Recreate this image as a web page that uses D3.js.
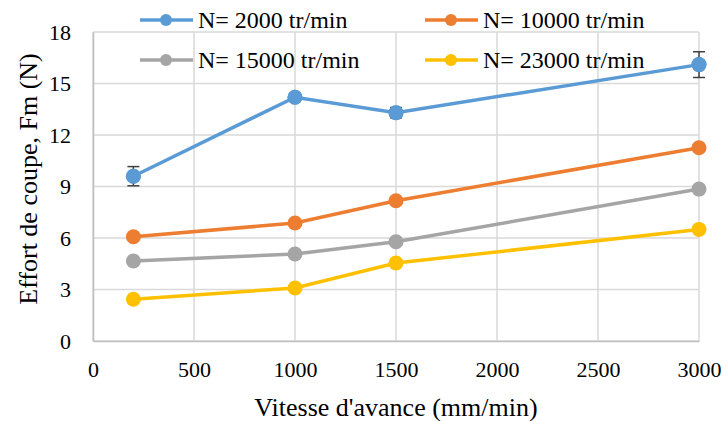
<!DOCTYPE html>
<html>
<head>
<meta charset="utf-8">
<script src="https://cdn.jsdelivr.net/npm/d3@7"></script>
<style>
  body { margin: 0; background: #fff; }
  svg text { font-family: "Liberation Serif", "DejaVu Serif", "Times New Roman", serif; fill: #000; }
</style>
</head>
<body>
<div id="chart"></div>
<script>
// feed rates (mm/min)
var feeds = [200, 1000, 1500, 3000];
var seriesNames = ["N= 2000 tr/min", "N= 10000 tr/min", "N= 15000 tr/min", "N= 23000 tr/min"];
var colors = ["#5B9BD5", "#ED7D31", "#A5A5A5", "#FFC000"];
// cutting force Fm (N)
var fm2000 = [9.6, 14.2, 13.3, 16.1];
var fm10000 = [6.07, 6.87, 8.17, 11.26];
var fm15000 = [4.66, 5.07, 5.78, 8.85];
var fm23000 = [2.43, 3.09, 4.54, 6.5];
// error bars (only the 2000 tr/min series shows them)
var err2000 = [0.56, 0.2, 0.3, 0.75];
var xTicks = [0, 500, 1000, 1500, 2000, 2500, 3000];
var yTicks = [0, 3, 6, 9, 12, 15, 18];

var width = 724, height = 421;
var margin = {top: 32, right: 25, bottom: 80, left: 93};
var serif = '"Liberation Serif", "DejaVu Serif", "Times New Roman", serif';

var svg = d3.select('#chart').append('svg')
  .attr('width', width).attr('height', height);

var x = d3.scaleLinear().domain([0, 3000]).range([margin.left, width - margin.right]);
var y = d3.scaleLinear().domain([0, 18]).range([height - margin.bottom, margin.top]);

// grid
var grid = svg.append('g');
grid.selectAll('line.h').data(yTicks).enter().append('line')
  .attr('x1', x(0)).attr('x2', x(3000))
  .attr('y1', function(d) { return y(d); }).attr('y2', function(d) { return y(d); })
  .attr('stroke', '#D9D9D9').attr('stroke-width', 1.5);
grid.selectAll('line.v').data(xTicks).enter().append('line')
  .attr('y1', y(0)).attr('y2', y(18))
  .attr('x1', function(d) { return x(d); }).attr('x2', function(d) { return x(d); })
  .attr('stroke', '#D9D9D9').attr('stroke-width', 1.5);

// axes
var xAxis = svg.append('g').attr('transform', 'translate(0,' + y(0) + ')')
  .call(d3.axisBottom(x).tickValues(xTicks).tickFormat(d3.format('d')).tickSize(0).tickPadding(20));
xAxis.attr('font-family', serif).attr('font-size', 22);
xAxis.select('.domain').attr('stroke', '#BFBFBF').attr('stroke-width', 1.5);
xAxis.selectAll('text').attr('fill', '#000');

var yAxis = svg.append('g').attr('transform', 'translate(' + x(0) + ',0)')
  .call(d3.axisLeft(y).tickValues(yTicks).tickSize(0).tickPadding(22));
yAxis.attr('font-family', serif).attr('font-size', 22);
yAxis.select('.domain').attr('stroke', '#BFBFBF').attr('stroke-width', 1.5);
yAxis.selectAll('text').attr('fill', '#000');

// axis titles
svg.append('text')
  .attr('x', (x(0) + x(3000)) / 2).attr('y', 416)
  .attr('text-anchor', 'middle').attr('font-size', 26)
  .text("Vitesse d'avance (mm/min)");
svg.append('text')
  .attr('transform', 'translate(37,179) rotate(-90)')
  .attr('text-anchor', 'middle').attr('font-size', 26)
  .text('Effort de coupe, Fm (N)');

// series
var allSeries = [fm2000, fm10000, fm15000, fm23000];
var line = d3.line()
  .x(function(d, i) { return x(feeds[i]); })
  .y(function(d) { return y(d); });

// draw bottom series first so blue ends on top
for (var s = allSeries.length - 1; s >= 0; s--) {
  var g = svg.append('g');
  g.append('path').datum(allSeries[s])
    .attr('d', line).attr('fill', 'none')
    .attr('stroke', colors[s]).attr('stroke-width', 3.5);
  g.selectAll('circle').data(allSeries[s]).enter().append('circle')
    .attr('cx', function(d, i) { return x(feeds[i]); })
    .attr('cy', function(d) { return y(d); })
    .attr('r', 7.5).attr('fill', colors[s]);
}

// error bars
var eb = svg.append('g').attr('stroke', '#404040').attr('stroke-width', 1.5);
fm2000.forEach(function(v, i) {
  var cx = x(feeds[i]);
  eb.append('line').attr('x1', cx).attr('x2', cx)
    .attr('y1', y(v - err2000[i])).attr('y2', y(v + err2000[i]));
  eb.append('line').attr('x1', cx - 6).attr('x2', cx + 6)
    .attr('y1', y(v - err2000[i])).attr('y2', y(v - err2000[i]));
  eb.append('line').attr('x1', cx - 6).attr('x2', cx + 6)
    .attr('y1', y(v + err2000[i])).attr('y2', y(v + err2000[i]));
});
// redraw blue markers over the error bar stems
svg.append('g').selectAll('circle').data(fm2000).enter().append('circle')
  .attr('cx', function(d, i) { return x(feeds[i]); })
  .attr('cy', function(d) { return y(d); })
  .attr('r', 7.5).attr('fill', colors[0]);

// legend
var legendPos = [[166, 20], [451, 20], [166, 60], [451, 60]];
var legend = svg.append('g');
seriesNames.forEach(function(name, i) {
  var p = legendPos[i];
  legend.append('line')
    .attr('x1', p[0] - 26).attr('x2', p[0] + 27)
    .attr('y1', p[1]).attr('y2', p[1])
    .attr('stroke', colors[i]).attr('stroke-width', 3.5);
  legend.append('circle').attr('cx', p[0]).attr('cy', p[1]).attr('r', 6)
    .attr('fill', colors[i]);
  legend.append('text').attr('x', p[0] + 32).attr('y', p[1] + 8)
    .attr('font-size', 24).text(name);
});
</script>
</body>
</html>
